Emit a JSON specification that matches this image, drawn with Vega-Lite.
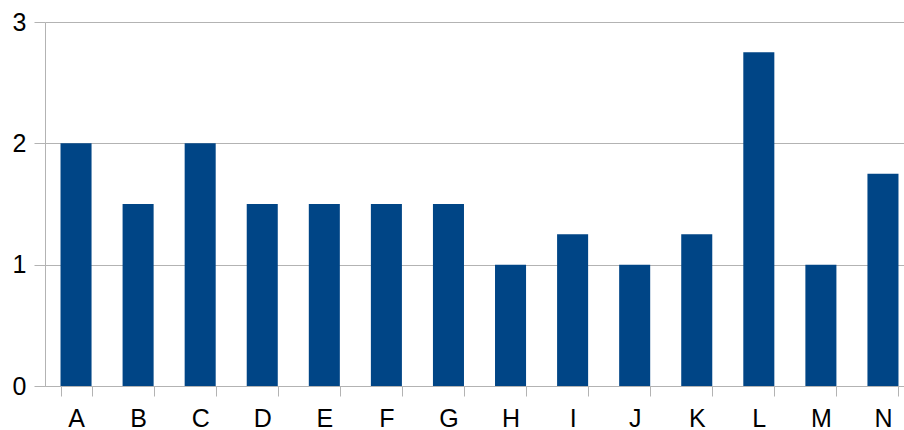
{
  "$schema": "https://vega.github.io/schema/vega-lite/v6.json",
  "width": 869,
  "height": 364,
  "autosize": {"type": "none"},
  "padding": {"left": 45, "top": 22, "right": 0, "bottom": 44},
  "background": "white",
  "config": {"view": {"stroke": null}},
  "data": {"values": [
    {"cat": "A", "value": 2},
    {"cat": "B", "value": 1.5},
    {"cat": "C", "value": 2},
    {"cat": "D", "value": 1.5},
    {"cat": "E", "value": 1.5},
    {"cat": "F", "value": 1.5},
    {"cat": "G", "value": 1.5},
    {"cat": "H", "value": 1},
    {"cat": "I", "value": 1.25},
    {"cat": "J", "value": 1},
    {"cat": "K", "value": 1.25},
    {"cat": "L", "value": 2.75},
    {"cat": "M", "value": 1},
    {"cat": "N", "value": 1.75}
  ]},
  "mark": {"type": "bar", "color": "#004586"},
  "encoding": {
    "x": {
      "field": "cat", "type": "nominal",
      "scale": {"paddingInner": 0.5, "paddingOuter": 0.25},
      "axis": {
        "title": null, "labelAngle": 0, "tickBand": "extent",
        "domainColor": "#b3b3b3", "tickColor": "#b3b3b3", "tickSize": 10,
        "labelFont": "Liberation Sans", "labelFontSize": 25, "labelColor": "#000000",
        "labelPadding": 10, "grid": false
      }
    },
    "y": {
      "field": "value", "type": "quantitative",
      "scale": {"domain": [0, 3], "nice": false},
      "axis": {
        "title": null, "values": [0, 1, 2, 3], "format": "d",
        "domainColor": "#b3b3b3", "tickColor": "#b3b3b3", "tickSize": 11,
        "gridColor": "#b3b3b3", "grid": true,
        "labelFont": "Liberation Sans", "labelFontSize": 25, "labelColor": "#000000",
        "labelPadding": 8
      }
    }
  }
}
